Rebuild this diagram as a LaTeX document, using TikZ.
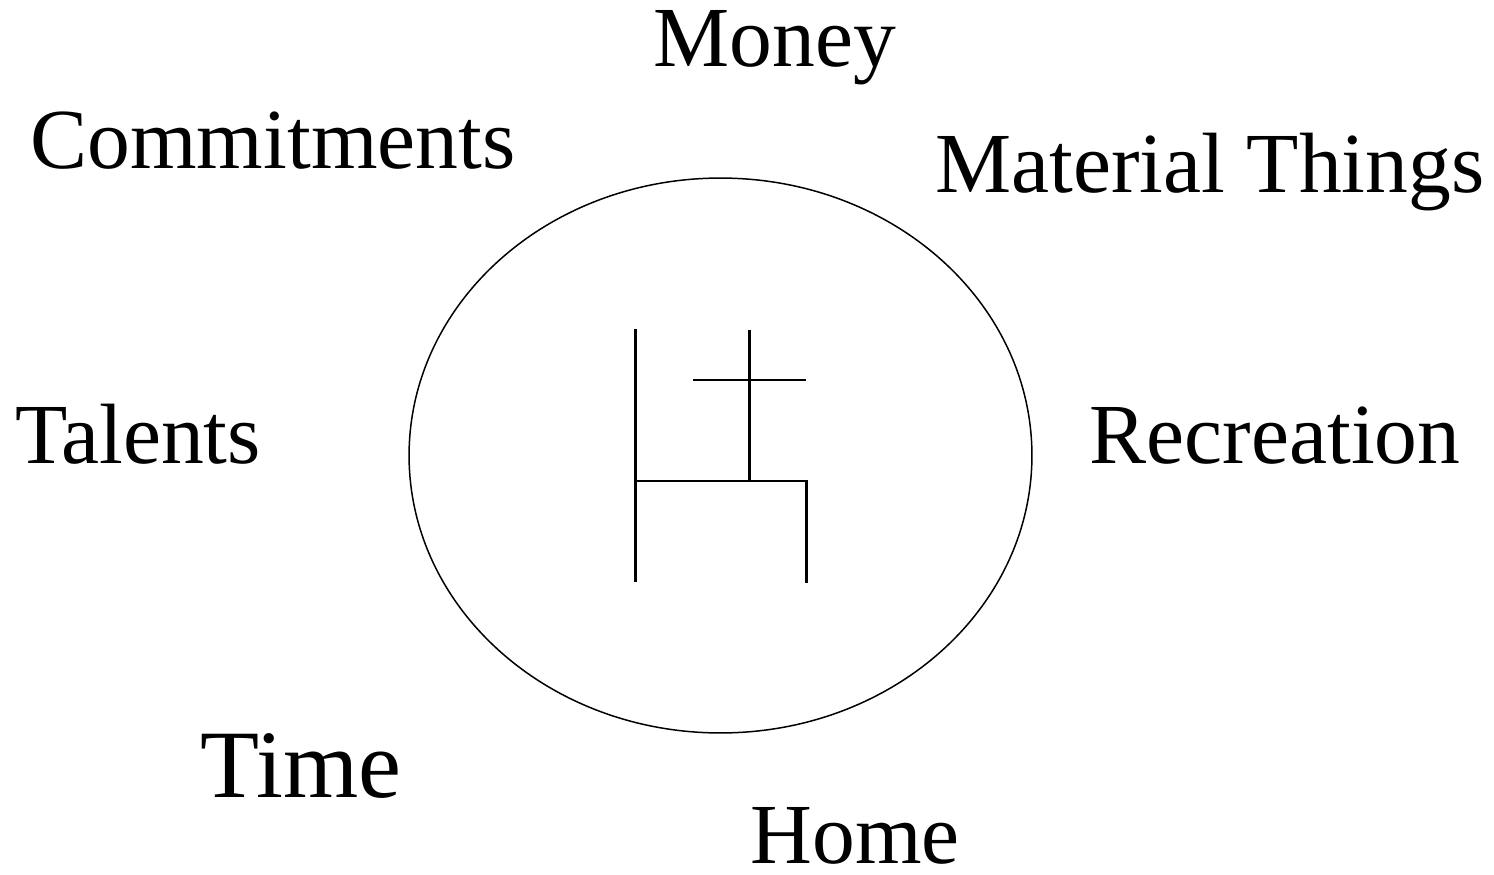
\documentclass[tikz,border=0pt]{standalone}
\usepackage{fontspec}
\setmainfont{Liberation Serif}
\usetikzlibrary{shapes.geometric}

\begin{document}
\begin{tikzpicture}[x=0.02cm, y=-0.02cm,
  word/.style={anchor=base, inner sep=0pt, font=\fontsize{48.7}{58}\selectfont},
  big/.style={word, font=\fontsize{55}{66}\selectfont},
  ring/.style={draw, ellipse, line width=0.85pt, minimum width=12.46cm, minimum height=11.1cm, inner sep=0pt},
  glyph/.style={line width=1.7pt}]
\useasboundingbox (0,0) rectangle (1494,875);
\node[ring] (heart) at (720.5,455.5) {};
\node[word] (money) at (775,67) {Money};
\node[word] (commit) at (273,168) {Commitments};
\node[word] (material) at (1210,192) {Material Things};
\node[word] (talents) at (138,463) {Talents};
\node[word] (recreation) at (1275,463) {Recreation};
\node[big] (time) at (301,797) {Time};
\node[word] (home) at (855,863) {Home};
% symbol in the middle
\draw[glyph] (635,329) -- (635,582);
\draw[glyph] (635,481) -- (806,481) -- (806,583);
\draw[glyph] (749,330) -- (749,481);
\draw[glyph] (693,380) -- (806,380);
\end{tikzpicture}
\end{document}
